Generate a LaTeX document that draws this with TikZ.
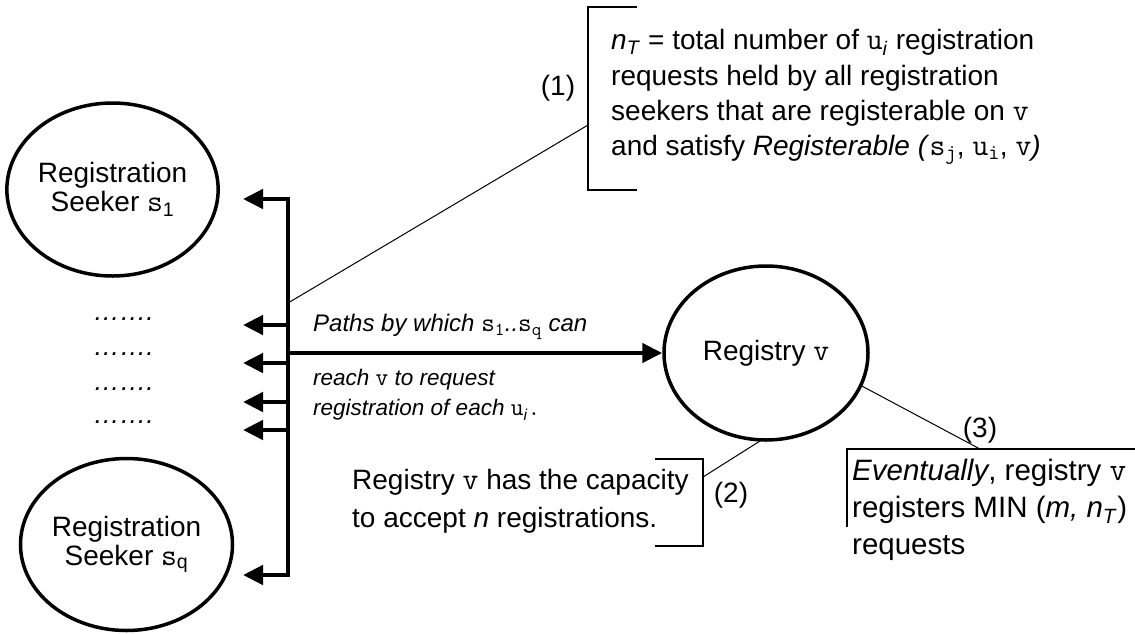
\documentclass[tikz,border=0pt]{standalone}
\usepackage{fontspec}
\setmainfont{Liberation Sans}
\makeatletter
\newcommand{\cv}[1]{{\ttfamily\upshape\fontsize{\dimexpr\f@size pt*110/100\relax}{\f@baselineskip}\selectfont #1}}
\makeatother
\usetikzlibrary{arrows.meta,shapes.geometric}
\tikzset{
  ovalnode/.style={draw, line width=3.5pt, ellipse, inner sep=0pt, align=center,
    font=\fontsize{28}{29}\selectfont},
  busline/.style={line width=4.5pt, line join=miter},
  arr/.style={-{Triangle[length=20pt,width=19pt]}},
  twoarr/.style={{Triangle[length=20pt,width=19pt]}-{Triangle[length=20pt,width=19pt]}},
  thinline/.style={line width=1pt},
  bracketline/.style={line width=1.6pt},
  txt/.style={inner sep=0pt, align=left, anchor=west},
  lbl/.style={inner sep=0pt, font=\fontsize{28}{30}\selectfont},
  dotsnode/.style={inner sep=0pt, anchor=base, font=\fontsize{26.5}{28}\selectfont\itshape},
}
\begin{document}
\begin{tikzpicture}[x=1pt,y=-1pt]
\useasboundingbox (0,0) rectangle (1135,633);

% ellipses
\node[ovalnode, minimum width=201pt, minimum height=173pt] (s1) at (112.5,189.5)
  {Registration\\Seeker \cv{s}\textsubscript{1}};
\node[ovalnode, minimum width=212pt, minimum height=172pt] (sq) at (126.5,544.5)
  {Registration\\Seeker \cv{s}\textsubscript{q}};
\node[ovalnode, minimum width=204pt, minimum height=174pt] (reg) at (766,353)
  {Registry \cv{v}};

% bus
\coordinate (a1) at (243,199);
\coordinate (c1) at (288,199);
\coordinate (c6) at (288,575);
\coordinate (a6) at (243,575);
\draw[busline, twoarr] (a1) -- (c1) -- (c6) -- (a6);
\foreach \i/\yy in {2/325,3/363,4/402,5/430}{
  \coordinate (b\i) at (288,\yy);
  \coordinate (a\i) at (243,\yy);
  \draw[busline, arr] (b\i) -- (a\i);
}
\coordinate (m0) at (288,353);
\draw[busline, arr] (m0) -- (reg.west);

% dots
\node[dotsnode] (d1) at (123.5,320) {…….};
\node[dotsnode] (d2) at (123.5,355) {…….};
\node[dotsnode] (d3) at (123.5,390) {…….};
\node[dotsnode] (d4) at (123.5,423) {…….};

% path text
\node[txt, font=\fontsize{24}{30}\selectfont\itshape] (p1) at (313,327)
  {Paths by which \cv{s}\textsubscript{\cv{1}}..\cv{s}\textsubscript{\cv{q}} can};
\node[txt, font=\fontsize{22.5}{30}\selectfont\itshape] (p2) at (313,395)
  {reach \cv{v} to request\\registration of each \cv{u}\textsubscript{\textit{i}}\cv{.}};

% annotation 1
\coordinate (k1a) at (637,7);
\coordinate (k1b) at (588,7);
\coordinate (k1c) at (588,190);
\coordinate (k1d) at (637,190);
\draw[bracketline] (k1a) -- (k1b) -- (k1c) -- (k1d);
\coordinate (k1p) at (588,125);
\coordinate (bp) at (288,303);
\draw[thinline] (bp) -- (k1p);
\node[lbl] (l1) at (558,88) {(1)};
\node[txt, font=\fontsize{28}{35}\selectfont] (n1) at (611,97)
  {\textit{n}\textsubscript{\textit{T}} = total number of \cv{u}\textsubscript{\textit{i}} registration\\
   requests held by all registration\\
   seekers that are registerable on \cv{v}\\
   and satisfy \textit{Registerable (}\cv{s}\textsubscript{\cv{j}}, \cv{u}\textsubscript{\cv{i}}, \cv{v}\textit{)}};

% annotation 2
\coordinate (k2a) at (655,459);
\coordinate (k2b) at (703,459);
\coordinate (k2c) at (703,546);
\coordinate (k2d) at (655,546);
\draw[bracketline] (k2a) -- (k2b) -- (k2c) -- (k2d);
\coordinate (k2p) at (703,477);
\coordinate (r2) at (760,441);
\draw[thinline] (r2) -- (k2p);
\node[lbl] (l2) at (731,495) {(2)};
\node[txt, font=\fontsize{28}{38}\selectfont] (n2) at (352,501)
  {Registry \cv{v} has the capacity\\to accept \textit{n} registrations.};

% annotation 3
\coordinate (k3a) at (847,527);
\coordinate (k3b) at (847,449);
\coordinate (k3c) at (1135,449);
\draw[bracketline] (k3a) -- (k3b) -- (k3c);
\coordinate (k3p) at (980,449);
\coordinate (r3) at (860,385);
\draw[thinline] (r3) -- (k3p);
\node[lbl] (l3) at (980,430) {(3)};
\node[txt, font=\fontsize{29.5}{37}\selectfont] (n3) at (852,510)
  {\textit{Eventually}, registry \cv{v}\\registers MIN (\textit{m, n}\textsubscript{\textit{T}})\\requests};
\end{tikzpicture}
\end{document}
